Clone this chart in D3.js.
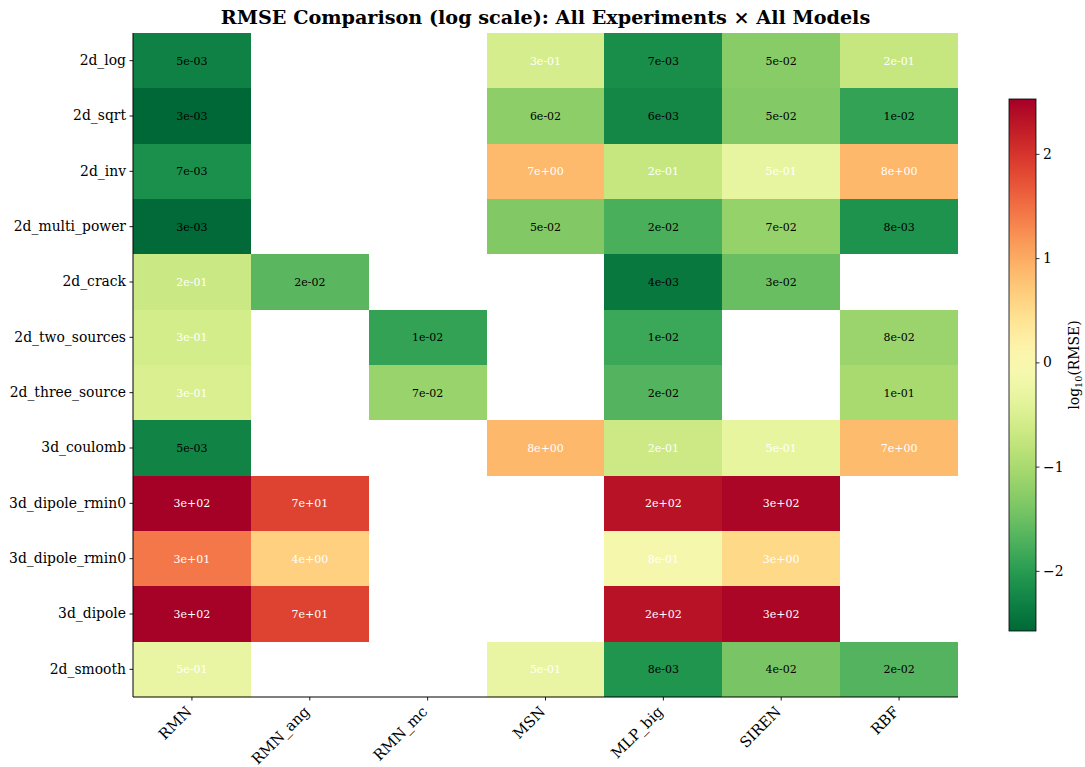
<!DOCTYPE html>
<html>
<head>
<meta charset="utf-8">
<script src="https://cdn.jsdelivr.net/npm/d3@7"></script>
<style>
  html, body { margin: 0; padding: 0; background: #fff; }
  svg { display: block; font-family: "DejaVu Serif", serif; }
</style>
</head>
<body>
<div id="host"></div>
<script>
// experiments (rows) and models (columns)
const experiments = [
  '2d_log', '2d_sqrt', '2d_inv', '2d_multi_power', '2d_crack', '2d_two_sources',
  '2d_three_source', '3d_coulomb', '3d_dipole_rmin0', '3d_dipole_rmin0', '3d_dipole', '2d_smooth',
];
const models = ['RMN', 'RMN_ang', 'RMN_mc', 'MSN', 'MLP_big', 'SIREN', 'RBF'];

// RMSE per experiment, one entry per model (null = not run)
const rmse_2d_log          = [0.0049, null, null, 0.28, 0.0068, 0.052, 0.19];
const rmse_2d_sqrt         = [0.00265, null, null, 0.058, 0.0058, 0.048, 0.012];
const rmse_2d_inv          = [0.0072, null, null, 7.2, 0.19, 0.47, 7.6];
const rmse_2d_multi_power  = [0.0028, null, null, 0.047, 0.018, 0.068, 0.0078];
const rmse_2d_crack        = [0.21, 0.024, null, null, 0.0039, 0.030, null];
const rmse_2d_two_sources  = [0.27, null, 0.012, null, 0.014, null, 0.076];
const rmse_2d_three_source = [0.31, null, 0.071, null, 0.021, null, 0.098];
const rmse_3d_coulomb      = [0.0052, null, null, 7.6, 0.22, 0.46, 7.1];
const rmse_3d_dipole_a     = [336, 73, null, null, 215, 290, null];
const rmse_3d_dipole_b     = [27, 4.3, null, null, 0.78, 3.4, null];
const rmse_3d_dipole       = [330, 73, null, null, 215, 290, null];
const rmse_2d_smooth       = [0.5, null, null, 0.5, 0.0082, 0.04, 0.021];

const rmseRows = [
  rmse_2d_log, rmse_2d_sqrt, rmse_2d_inv, rmse_2d_multi_power, rmse_2d_crack,
  rmse_2d_two_sources, rmse_2d_three_source, rmse_3d_coulomb, rmse_3d_dipole_a,
  rmse_3d_dipole_b, rmse_3d_dipole, rmse_2d_smooth,
];
const cbarTicks = [-2, -1, 0, 1, 2];

const width = 1085, height = 767;
const margin = { top: 33, left: 133 };
const plotW = 825, plotH = 664;

const svg = d3.select('#host').append('svg').attr('width', width).attr('height', height);

const cells = [];
rmseRows.forEach((row, i) => row.forEach((v, j) => {
  if (v != null) cells.push({ r: i, c: j, v, lv: Math.log10(v) });
}));

const lvExtent = d3.extent(cells, (d) => d.lv);
const color = d3.scaleSequential((t) => d3.interpolateRdYlGn(1 - t)).domain(lvExtent);

const x = d3.scaleBand().domain(d3.range(models.length)).range([0, plotW]);
const y = d3.scaleBand().domain(d3.range(experiments.length)).range([0, plotH]);

const fmt = (v) => {
  const [m, e] = v.toExponential(0).split('e');
  const sign = e[0] === '-' ? '-' : '+';
  const digits = e.replace(/[+-]/, '').padStart(2, '0');
  return `${m}e${sign}${digits}`;
};

const g = svg.append('g').attr('transform', `translate(${margin.left},${margin.top})`);

g.selectAll('.cell')
  .data(cells)
  .enter()
  .append('rect')
  .attr('class', 'cell')
  .attr('x', (d) => x(d.c))
  .attr('y', (d) => y(d.r))
  .attr('width', x.bandwidth())
  .attr('height', y.bandwidth())
  .attr('fill', (d) => color(d.lv))
  .attr('shape-rendering', 'crispEdges');

g.selectAll('.cell-label')
  .data(cells)
  .enter()
  .append('text')
  .attr('class', 'cell-label')
  .attr('x', (d) => x(d.c) + x.bandwidth() / 2)
  .attr('y', (d) => y(d.r) + y.bandwidth() / 2)
  .attr('dy', '0.35em')
  .attr('text-anchor', 'middle')
  .attr('font-size', 11)
  .attr('fill', (d) => (d.lv > -1 ? '#fff' : '#000'))
  .text((d) => fmt(d.v));

// axes
const yAxis = g.append('g')
  .call(d3.axisLeft(y).tickSize(3.5).tickPadding(3.5).tickFormat((i) => experiments[i]));
const xAxis = g.append('g')
  .attr('transform', `translate(0,${plotH})`)
  .call(d3.axisBottom(x).tickSize(3.5).tickFormat((i) => models[i]));

[yAxis, xAxis].forEach((a) => {
  a.select('.domain').attr('stroke', '#000').attr('stroke-width', 1);
  a.selectAll('.tick line').attr('stroke', '#000').attr('stroke-width', 0.9);
  a.selectAll('.tick text')
    .attr('fill', '#000')
    .attr('font-size', 13.9)
    .attr('font-family', '"DejaVu Serif", serif');
});
yAxis.select('.domain').attr('d', `M0,0V${plotH}`);
xAxis.select('.domain').attr('d', `M0,0H${plotW}`);

xAxis.selectAll('.tick text')
  .attr('font-size', 14.8)
  .attr('text-anchor', 'end')
  .attr('dy', '0.35em')
  .attr('y', 0)
  .attr('transform', 'translate(-3,12) rotate(-45)');

// title
svg.append('text')
  .attr('x', margin.left + plotW / 2)
  .attr('y', 24)
  .attr('text-anchor', 'middle')
  .attr('font-size', 19.2)
  .attr('font-weight', 'bold')
  .text('RMSE Comparison (log scale): All Experiments × All Models');

// colorbar
const cb = { x: 1009, y: 99, w: 27, h: 532 };
const cbScale = d3.scaleLinear().domain(lvExtent).range([cb.h, 0]);

const grad = svg.append('defs').append('linearGradient')
  .attr('id', 'cbgrad')
  .attr('x1', 0).attr('y1', 1).attr('x2', 0).attr('y2', 0);
d3.range(0, 1.0001, 0.02).forEach((t) => {
  grad.append('stop').attr('offset', t).attr('stop-color', d3.interpolateRdYlGn(1 - t));
});

const cbg = svg.append('g').attr('transform', `translate(${cb.x},${cb.y})`);
cbg.append('rect')
  .attr('width', cb.w)
  .attr('height', cb.h)
  .attr('fill', 'url(#cbgrad)')
  .attr('stroke', '#000')
  .attr('stroke-width', 0.8);

const cbAxis = cbg.append('g')
  .attr('transform', `translate(${cb.w},0)`)
  .call(d3.axisRight(cbScale).tickValues(cbarTicks).tickSize(3.5).tickPadding(3.5)
    .tickFormat((d) => (d < 0 ? '\u2212' + Math.abs(d) : String(d))));
cbAxis.select('.domain').remove();
cbAxis.selectAll('.tick line').attr('stroke', '#000').attr('stroke-width', 0.8);
cbAxis.selectAll('.tick text')
  .attr('fill', '#000')
  .attr('font-size', 13.9)
  .attr('font-family', '"DejaVu Serif", serif');

const cbLabel = svg.append('text')
  .attr('transform', `translate(1079,${cb.y + cb.h / 2}) rotate(-90)`)
  .attr('text-anchor', 'middle')
  .attr('font-size', 13.9);
cbLabel.append('tspan').text('log');
cbLabel.append('tspan').attr('font-size', 9.7).attr('dy', 3).text('10');
cbLabel.append('tspan').attr('dy', -3).text('(RMSE)');
</script>
</body>
</html>
